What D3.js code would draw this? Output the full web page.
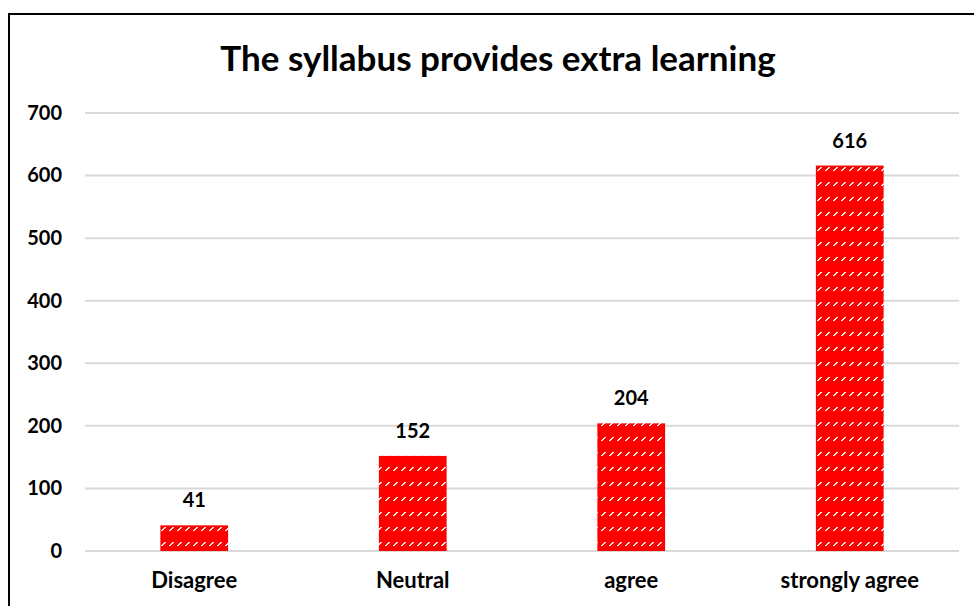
<!DOCTYPE html>
<html><head><meta charset="utf-8">
<script src="https://cdn.jsdelivr.net/npm/d3@7"></script>
<style>html,body{margin:0;padding:0;background:#fff;}svg{display:block;}</style>
</head><body>
<svg id="c" width="974" height="606"></svg>
<script>
const categories = ["Disagree", "Neutral", "agree", "strongly agree"];
const values = [41, 152, 204, 616];
const yTicks = [0, 100, 200, 300, 400, 500, 600, 700];
const title = "The syllabus provides extra learning";

const svg = d3.select("#c");
const font = "Lato, 'Open Sans', sans-serif";

// pattern
const defs = svg.append("defs");
const pat = defs.append("pattern").attr("id","hatch").attr("patternUnits","userSpaceOnUse")
  .attr("width",8).attr("height",15);
pat.append("rect").attr("width",8).attr("height",15).attr("fill","#ff0000");
[[1,5],[2,4],[3,3],[4,2]].forEach(([x,y])=>{
  pat.append("rect").attr("x",x).attr("y",y).attr("width",2).attr("height",1).attr("fill","#fff0f0");
});

// frame
svg.append("rect").attr("x",9).attr("y",14).attr("width",980).attr("height",620)
  .attr("fill","none").attr("stroke","#000").attr("stroke-width",2);

const x = d3.scaleBand().domain(categories).range([85,959]).paddingInner(0.69).paddingOuter(0.345);
const y = d3.scaleLinear().domain([0,700]).range([551,113]);

// gridlines
svg.append("g").selectAll("line").data(yTicks).join("line")
  .attr("x1",85).attr("x2",959).attr("y1",d=>y(d)).attr("y2",d=>y(d))
  .attr("stroke","#d9d9d9").attr("stroke-width",2);

// y axis labels
const yAxis = d3.axisLeft(y).tickValues(yTicks).tickSize(0).tickPadding(0);
const gy = svg.append("g").attr("transform","translate(62,0)").call(yAxis);
gy.select(".domain").remove();
gy.selectAll("text").attr("font-family",font).attr("font-weight","bold").attr("font-size",20).attr("fill","#000");

// bars
svg.append("g").selectAll("rect").data(values).join("rect")
  .attr("x",(d,i)=>x(categories[i])).attr("width",x.bandwidth())
  .attr("y",d=>y(d)).attr("height",d=>y(0)-y(d))
  .attr("fill","url(#hatch)");

// value labels
svg.append("g").selectAll("text").data(values).join("text")
  .attr("x",(d,i)=>x(categories[i])+x.bandwidth()/2).attr("y",d=>y(d)-18)
  .attr("text-anchor","middle").attr("font-family",font).attr("font-weight","bold")
  .attr("font-size",20).attr("fill","#000").text(d=>d);

// x axis labels
const xAxis = d3.axisBottom(x).tickSize(0).tickPadding(0);
const gx = svg.append("g").attr("transform","translate(0,572)").call(xAxis);
gx.select(".domain").remove();
gx.selectAll("text").attr("font-family",font).attr("font-weight","bold").attr("font-size",22).attr("fill","#000");

// title
svg.append("text").attr("x",498).attr("y",71).attr("text-anchor","middle")
  .attr("font-family",font).attr("font-weight","bold").attr("font-size",35).attr("fill","#000").text(title);
</script>
</body></html>
